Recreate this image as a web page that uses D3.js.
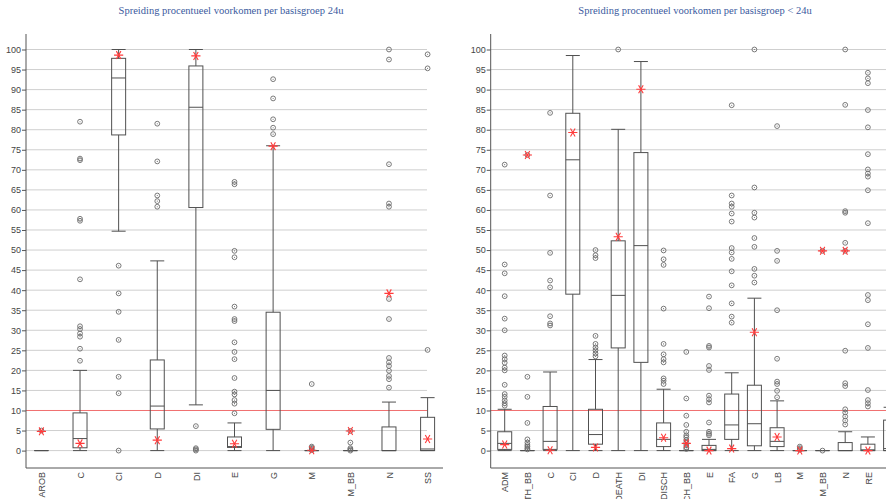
<!DOCTYPE html>
<html>
<head>
<meta charset="utf-8">
<script src="https://cdn.jsdelivr.net/npm/d3@7"></script>
<style>
  body { margin: 0; background: #fff; }
  svg { display: block; }
</style>
</head>
<body>
<svg id="chart" width="886" height="499"></svg>
<script>
// ---- Left panel: basisgroep 24u ----
const leftTitle = "Spreiding procentueel voorkomen  per basisgroep 24u";
const leftCategories = ["AROB", "C", "CI", "D", "DI", "E", "G", "M", "M_BB", "N", "SS"];
const leftMin    = [0, 0,    54.7, 0,    11.4, 0,   0,    0,   0,   0,    0];
const leftQ1     = [0, 0.7,  78.7, 5.4,  60.6, 0.8, 5.3,  0,   0,   0,    0];
const leftMedian = [0, 3.0,  92.9, 11.1, 85.6, 1.0, 15.0, 0,   0,   0,    0.4];
const leftQ3     = [0, 9.4,  97.8, 22.6, 95.9, 3.4, 34.5, 0,   0,   5.9,  8.3];
const leftMax    = [0, 20.0, 100,  47.3, 100,  6.9, 76.0, 0,   0,   12.1, 13.2];
const leftMean   = [4.8, 1.8, 98.6, 2.6, 98.4, 1.7, 75.9, 0.1, 4.9, 39.2, 2.9];
const leftOutliers = [
  [5.0],
  [82.0, 72.8, 72.4, 57.8, 57.3, 42.7, 31.0, 30.3, 29.2, 28.4, 25.4, 22.4],
  [46.1, 39.2, 34.6, 27.6, 18.4, 14.3, 0],
  [81.5, 72.1, 63.6, 62.2, 60.8],
  [6.1, 0.6, 0.3, 0],
  [67.0, 66.4, 49.8, 48.2, 35.9, 32.8, 32.3, 27.0, 24.6, 22.8, 18.1, 14.7, 14.0, 12.6, 11.7, 9.3],
  [92.6, 87.8, 82.6, 80.5, 78.9],
  [16.6, 1.0, 0.7, 0.4, 0.1],
  [4.9, 2.0, 0.6, 0.3, 0],
  [100, 97.5, 71.4, 61.6, 60.8, 37.8, 32.8, 23.1, 22.0, 21.1, 19.9, 18.6, 17.8, 15.7],
  [98.8, 95.3, 25.1]
];

// ---- Right panel: basisgroep < 24u ----
const rightTitle = "Spreiding procentueel voorkomen per basisgroep < 24u";
const rightCategories = ["ADM", "DEATH_BB", "C", "CI", "D", "DEATH", "DI", "DISCH", "DISCH_BB",
                         "E", "FA", "G", "LB", "M", "M_BB", "N", "RE", "SS"];
const rightMin    = [0,    0,    0,    0,    0,    0,    0,    0,    0,   0,   0,    0,    0,    0, 0,    0,    0,   0];
const rightQ1     = [0.3,  0,    0.3,  39.0, 1.6,  25.6, 22.0, 1.0,  0,   0,   2.8,  1.2,  1.0,  0, 0,    0,    0,   0];
const rightMedian = [1.8,  0,    2.3,  72.5, 4.0,  38.7, 51.1, 2.8,  0,   0.3, 6.4,  6.7,  2.3,  0, 0,    0,    0.2, 0.5];
const rightQ3     = [4.7,  0,    11.0, 84.1, 10.3, 52.3, 74.3, 6.9,  0,   1.3, 14.1, 16.3, 5.7,  0, 0,    2.0,  1.6, 7.6];
const rightMax    = [10.3, 0,    19.6, 98.5, 22.7, 80.1, 97.0, 15.3, 0,   2.8, 19.4, 38.0, 12.4, 0, 0,    4.7,  3.4, 10.8];
const rightMean   = [1.5,  73.7, 0.1,  79.3, 0.8,  53.3, 90.1, 3.2,  1.8, 0,   0.5,  29.5, 3.4,  0, 49.8, 49.8, 0,   null];
const rightOutliers = [
  [71.3, 46.4, 44.2, 38.5, 32.9, 30.0, 23.7, 22.8, 21.9, 20.7, 20.0, 16.4, 14.1, 13.4, 12.5, 11.8, 11.2],
  [73.7, 18.4, 13.4, 6.9, 2.8, 2.0, 1.4, 1.0, 0.6, 0.3],
  [84.2, 63.6, 49.3, 42.4, 40.7, 33.5, 31.7, 31.2],
  [],
  [50.0, 48.7, 48.0, 28.6, 26.6, 25.7, 25.0, 24.2, 23.5],
  [100],
  [],
  [49.9, 47.7, 46.3, 35.4, 26.6, 24.0, 22.8, 22.0, 18.0, 17.4, 16.6],
  [24.6, 13.0, 8.7, 6.4, 4.7, 3.8, 3.3, 2.6, 2.0, 1.4, 0.8, 0.4],
  [38.4, 35.5, 26.1, 25.7, 21.1, 20.1, 13.7, 12.8, 12.0, 7.0, 4.7, 4.2, 3.8],
  [86.1, 63.6, 61.6, 60.8, 59.1, 57.1, 50.5, 49.4, 47.8, 44.7, 41.2, 36.7, 33.4, 31.9],
  [100, 65.6, 59.3, 58.1, 53.0, 50.8, 45.3, 43.6, 41.9],
  [80.9, 49.8, 47.3, 35.0, 22.9, 17.2, 16.6, 14.9, 13.3],
  [1.0, 0.6, 0.2],
  [49.8, 0],
  [100, 86.2, 59.7, 59.3, 51.8, 49.8, 24.9, 16.8, 16.1, 10.3, 9.5, 8.5, 7.5, 6.5],
  [94.2, 92.8, 91.6, 84.9, 80.6, 73.9, 70.1, 69.1, 68.3, 64.9, 56.7, 38.8, 37.5, 31.5, 25.6, 15.1, 12.6, 11.8, 11.0],
  []
];

const yTickValues = d3.range(0, 101, 5);
const referenceValue = 10;

const svg = d3.select("#chart");
const y = d3.scaleLinear().domain([0, 100]).range([450.6, 49.5]);

const axisTop = 34, axisBottom = 468;
const boxWidth = 14;

function asteriskPath(r) {
  const a = r * Math.cos(Math.PI / 3), b = r * Math.sin(Math.PI / 3);
  return `M${-r},0L${r},0M${-a},${-b}L${a},${b}M${-a},${b}L${a},${-b}`;
}

function drawPanel(cfg) {
  const g = svg.append("g");
  const x = d3.scalePoint().domain(cfg.categories).range(cfg.xRange);

  // title
  g.append("text")
    .attr("x", cfg.titleX).attr("y", 14)
    .attr("text-anchor", "middle")
    .attr("font-family", "'Liberation Serif', 'Times New Roman', serif")
    .attr("font-size", 10.5)
    .attr("fill", "#3b5a9e")
    .text(cfg.title);

  // horizontal gridlines
  g.append("g").selectAll("line").data(yTickValues).join("line")
    .attr("x1", cfg.axisX).attr("x2", cfg.gridEnd)
    .attr("y1", d => y(d)).attr("y2", d => y(d))
    .attr("stroke", "#cfcfcf").attr("stroke-width", 1);

  // reference line
  g.append("line")
    .attr("x1", cfg.axisX).attr("x2", cfg.gridEnd)
    .attr("y1", y(referenceValue)).attr("y2", y(referenceValue))
    .attr("stroke", "#f07070").attr("stroke-width", 1);

  // y axis
  const yAxis = g.append("g")
    .attr("transform", `translate(${cfg.axisX},0)`)
    .call(d3.axisLeft(y).tickValues(yTickValues).tickSize(4).tickSizeOuter(0));
  yAxis.select(".domain").remove();
  yAxis.selectAll(".tick line").attr("stroke", "#555");
  yAxis.selectAll(".tick text")
    .attr("font-family", "'Liberation Sans', Arial, sans-serif")
    .attr("font-size", 9).attr("fill", "#444").attr("x", -5);
  g.append("line")
    .attr("x1", cfg.axisX).attr("x2", cfg.axisX)
    .attr("y1", axisTop).attr("y2", axisBottom)
    .attr("stroke", "#555");

  // x axis
  const xAxis = g.append("g")
    .attr("transform", `translate(0,${axisBottom})`)
    .call(d3.axisBottom(x).tickSize(0).tickSizeOuter(0));
  xAxis.select(".domain").remove();
  xAxis.selectAll(".tick text")
    .attr("font-family", "'Liberation Sans', Arial, sans-serif")
    .attr("font-size", 9).attr("fill", "#444")
    .attr("transform", "rotate(-90)")
    .attr("text-anchor", "end")
    .attr("x", -4).attr("y", 0).attr("dy", "0.35em");
  g.append("line")
    .attr("x1", cfg.axisX).attr("x2", cfg.axisEnd)
    .attr("y1", axisBottom).attr("y2", axisBottom)
    .attr("stroke", "#555");

  const rows = cfg.categories.map((c, i) => ({
    cat: c, min: cfg.min[i], q1: cfg.q1[i], median: cfg.median[i],
    q3: cfg.q3[i], max: cfg.max[i], mean: cfg.mean[i], outliers: cfg.outliers[i]
  }));

  const boxes = g.append("g").selectAll("g").data(rows).join("g")
    .attr("transform", d => `translate(${x(d.cat)},0)`);

  const stroke = "#505050";
  // whiskers
  boxes.append("line")
    .attr("x1", 0).attr("x2", 0)
    .attr("y1", d => y(d.max)).attr("y2", d => y(d.q3))
    .attr("stroke", stroke);
  boxes.append("line")
    .attr("x1", 0).attr("x2", 0)
    .attr("y1", d => y(d.q1)).attr("y2", d => y(d.min))
    .attr("stroke", stroke);
  // caps
  boxes.append("line")
    .attr("x1", -boxWidth / 2).attr("x2", boxWidth / 2)
    .attr("y1", d => y(d.max)).attr("y2", d => y(d.max))
    .attr("stroke", stroke);
  boxes.append("line")
    .attr("x1", -boxWidth / 2).attr("x2", boxWidth / 2)
    .attr("y1", d => y(d.min)).attr("y2", d => y(d.min))
    .attr("stroke", stroke);
  // box
  boxes.append("rect")
    .attr("x", -boxWidth / 2).attr("width", boxWidth)
    .attr("y", d => y(d.q3)).attr("height", d => y(d.q1) - y(d.q3))
    .attr("fill", "none").attr("stroke", stroke);
  // median
  boxes.append("line")
    .attr("x1", -boxWidth / 2).attr("x2", boxWidth / 2)
    .attr("y1", d => y(d.median)).attr("y2", d => y(d.median))
    .attr("stroke", stroke);

  // outliers: small ring with a centre dot
  const out = boxes.selectAll("g.outlier").data(d => d.outliers).join("g")
    .attr("class", "outlier")
    .attr("transform", v => `translate(0,${y(v)})`);
  out.append("circle").attr("r", 2.4)
    .attr("fill", "none").attr("stroke", "#6a6a6a").attr("stroke-width", 0.9);
  out.append("circle").attr("r", 0.55).attr("fill", "#6a6a6a");

  // mean markers
  boxes.filter(d => d.mean !== null).append("path")
    .attr("d", asteriskPath(4.6))
    .attr("transform", d => `translate(0,${y(d.mean)})`)
    .attr("stroke", "#ff3b3b").attr("stroke-width", 1.1).attr("fill", "none");
}

drawPanel({
  title: leftTitle, titleX: 231,
  categories: leftCategories,
  min: leftMin, q1: leftQ1, median: leftMedian, q3: leftQ3, max: leftMax,
  mean: leftMean, outliers: leftOutliers,
  axisX: 26, gridEnd: 427, axisEnd: 443, xRange: [41.4, 427.6]
});

drawPanel({
  title: rightTitle, titleX: 695,
  categories: rightCategories,
  min: rightMin, q1: rightQ1, median: rightMedian, q3: rightQ3, max: rightMax,
  mean: rightMean, outliers: rightOutliers,
  axisX: 490.7, gridEnd: 886, axisEnd: 886, xRange: [504.7, 890.6]
});
</script>
</body>
</html>
